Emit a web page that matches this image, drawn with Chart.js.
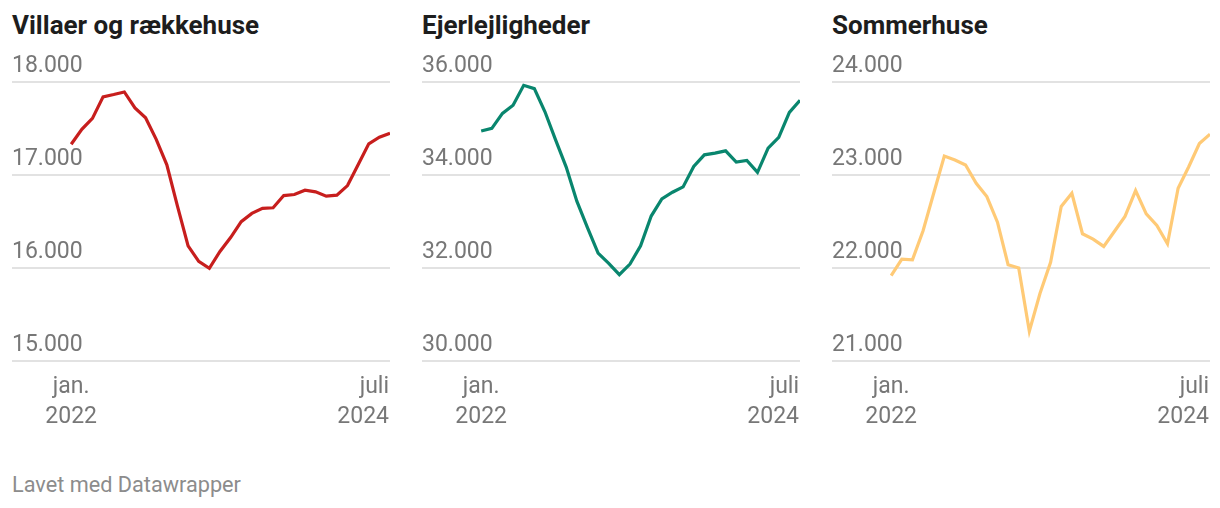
<!DOCTYPE html>
<html>
<head>
<meta charset="utf-8">
<script src="https://cdn.jsdelivr.net/npm/chart.js@4.4.1/dist/chart.umd.min.js"></script>
<style>
  html, body { margin: 0; padding: 0; background: #ffffff; }
  body { width: 1220px; height: 508px; position: relative; overflow: hidden; font-family: Roboto, "Noto Sans", sans-serif; }
  .title { position: absolute; top: 8px; font-family: Roboto, sans-serif; font-weight: 700; font-size: 26px; color: #1d1d1d; line-height: 34px; white-space: nowrap; }
  .panel { position: absolute; top: 48px; width: 378px; height: 392px; }
  .footer { position: absolute; left: 12px; top: 471px; font-size: 21.7px; color: #8c8c8c; line-height: 28px; white-space: nowrap; }
</style>
</head>
<body>
<div class="title" style="left:12px">Villaer og rækkehuse</div>
<div class="title" style="left:422px">Ejerlejligheder</div>
<div class="title" style="left:832px">Sommerhuse</div>
<div class="panel" style="left:12px"><canvas id="c1"></canvas></div>
<div class="panel" style="left:422px"><canvas id="c2"></canvas></div>
<div class="panel" style="left:832px"><canvas id="c3"></canvas></div>
<div class="footer">Lavet med Datawrapper</div>
<script>
// Months: jan. 2022 ... juli 2024 (31 monthly values)
const months = [
  '2022-01','2022-02','2022-03','2022-04','2022-05','2022-06','2022-07','2022-08','2022-09','2022-10','2022-11','2022-12',
  '2023-01','2023-02','2023-03','2023-04','2023-05','2023-06','2023-07','2023-08','2023-09','2023-10','2023-11','2023-12',
  '2024-01','2024-02','2024-03','2024-04','2024-05','2024-06','2024-07'
];
const xTickLabels = [['jan.', '2022'], ['juli', '2024']];

const villaer = [17331,17491,17609,17840,17865,17893,17722,17616,17384,17110,16665,16238,16071,15996,16178,16327,16498,16587,16641,16648,16779,16790,16836,16819,16772,16783,16886,17110,17335,17406,17448];
const ejerlejligheder = [34947,35004,35324,35502,35929,35858,35359,34754,34171,33438,32868,32320,32100,31858,32085,32477,33117,33488,33630,33744,34185,34434,34470,34520,34278,34313,34057,34577,34811,35345,35609];
const sommerhuse = [21918,22096,22089,22400,22804,23204,23161,23107,22911,22768,22493,22036,22000,21321,21725,22061,22661,22804,22368,22311,22232,22393,22554,22832,22582,22457,22261,22857,23089,23339,23439];

const villaerTicks = [15000, 16000, 17000, 18000];
const ejerTicks = [30000, 32000, 34000, 36000];
const sommerTicks = [21000, 22000, 23000, 24000];

function fmt(v) {
  return String(Math.round(v)).replace(/\B(?=(\d{3})+(?!\d))/g, '.');
}

const xLabelPlugin = {
  id: 'xLabels',
  afterDraw(chart) {
    const ctx = chart.ctx;
    const xs = chart.scales.x;
    const area = chart.chartArea;
    ctx.save();
    ctx.font = '23px Roboto, sans-serif';
    ctx.fillStyle = '#777777';
    ctx.textBaseline = 'middle';
    const first = xs.getPixelForValue(0);
    const last = xs.getPixelForValue(months.length - 1);
    ctx.textAlign = 'center';
    ctx.fillText(xTickLabels[0][0], first, area.bottom + 26);
    ctx.fillText(xTickLabels[0][1], first, area.bottom + 56);
    ctx.textAlign = 'right';
    ctx.fillText(xTickLabels[1][0], last - 1, area.bottom + 26);
    ctx.fillText(xTickLabels[1][1], last - 1, area.bottom + 56);
    ctx.restore();
  }
};

function makeChart(id, values, ticks, color) {
  const data = values.map((v, i) => ({ x: i, y: v }));
  new Chart(document.getElementById(id), {
    type: 'line',
    data: {
      datasets: [{
        data: data,
        borderColor: color,
        borderWidth: 3.2,
        pointRadius: 0,
        pointHoverRadius: 0,
        tension: 0,
        borderJoinStyle: 'miter',
        clip: false
      }]
    },
    options: {
      responsive: true,
      maintainAspectRatio: false,
      animation: false,
      events: [],
      layout: { padding: { top: 34, bottom: 79, left: 0, right: 0 } },
      plugins: { legend: { display: false }, tooltip: { enabled: false } },
      scales: {
        x: {
          type: 'linear',
          min: -5.57,
          max: months.length - 1,
          display: false
        },
        y: {
          min: ticks[0],
          max: ticks[ticks.length - 1],
          afterBuildTicks: (scale) => { scale.ticks = ticks.map(v => ({ value: v })); },
          border: { display: false },
          grid: { color: '#e2e2e2', lineWidth: 2, drawTicks: false },
          ticks: {
            mirror: true,
            padding: 0,
            labelOffset: -16,
            color: '#777777',
            font: { family: 'Roboto', size: 23 },
            callback: (v) => fmt(v)
          }
        }
      }
    },
    plugins: [xLabelPlugin]
  });
}

makeChart('c1', villaer, villaerTicks, '#c71e1d');
makeChart('c2', ejerlejligheder, ejerTicks, '#09866e');
makeChart('c3', sommerhuse, sommerTicks, '#ffca76');
</script>
</body>
</html>
